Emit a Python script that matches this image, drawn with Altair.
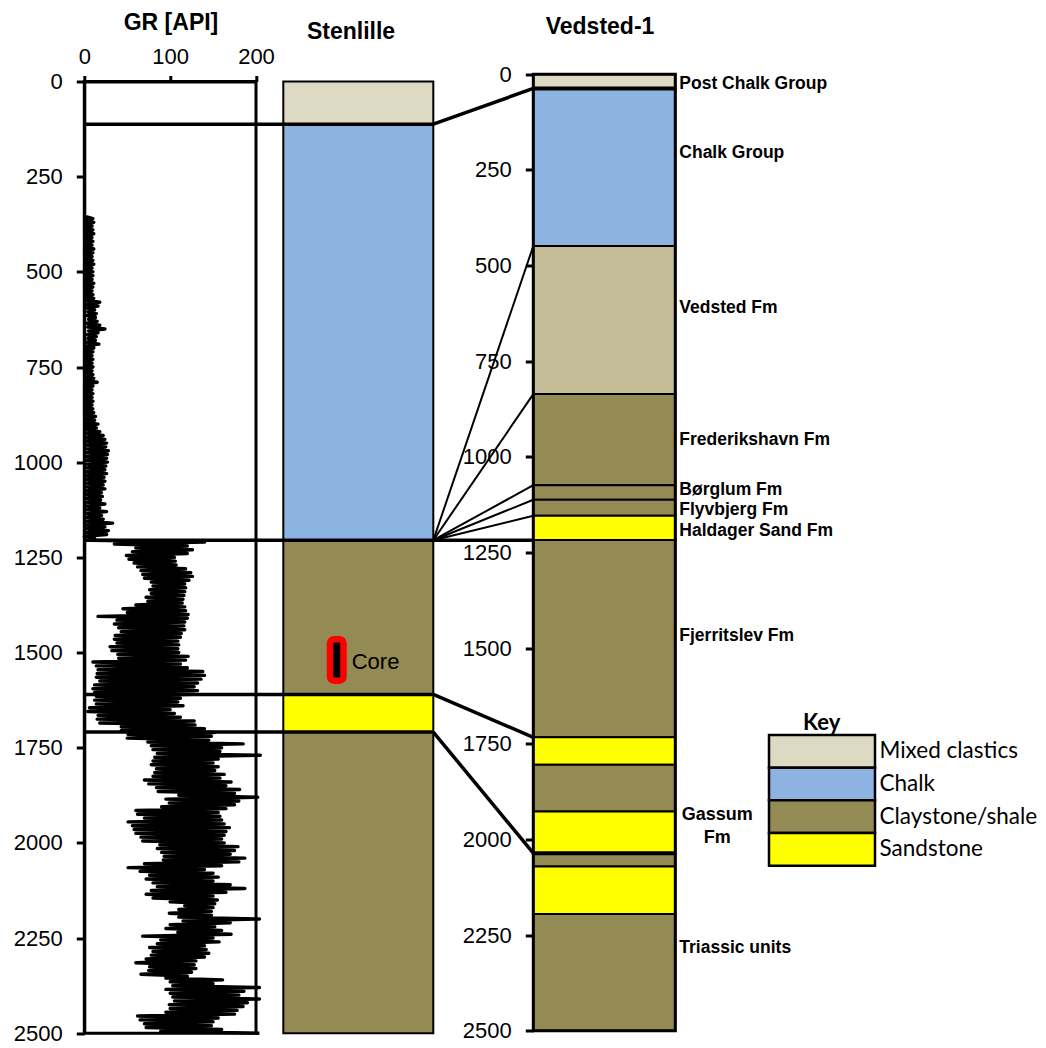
import altair as alt
import pandas as pd

# ------------------------------------------------------------------
# Well data
# ------------------------------------------------------------------
DEPTH_MAX = 2500
depth_ticks = list(range(0, 2501, 250))

lith_names = ["Mixed clastics", "Chalk", "Claystone/shale", "Sandstone", "Clay/marl"]
lith_colors = ["#DDD9C3", "#8DB3E2", "#948A54", "#FFFF00", "#C4BD97"]
key_items = ["Mixed clastics", "Chalk", "Claystone/shale", "Sandstone"]

# Stenlille lithology column (m)
sten_top = [0, 112, 1205, 1610, 1709]
sten_base = [112, 1205, 1610, 1709, 2500]
sten_lith = ["Mixed clastics", "Chalk", "Claystone/shale", "Sandstone", "Claystone/shale"]

# Vedsted-1 lithology column (m)
ved_top = [0, 37, 449, 836, 1074, 1112, 1154, 1217, 1733, 1805, 1927, 2036, 2071, 2195]
ved_base = [37, 449, 836, 1074, 1112, 1154, 1217, 1733, 1805, 1927, 2036, 2071, 2195, 2500]
ved_lith = ["Mixed clastics", "Chalk", "Clay/marl", "Claystone/shale", "Claystone/shale",
            "Claystone/shale", "Sandstone", "Claystone/shale", "Sandstone", "Claystone/shale",
            "Sandstone", "Claystone/shale", "Sandstone", "Claystone/shale"]

# Vedsted-1 formation labels (depth of label centre, m)
fm_names = ["Post Chalk Group", "Chalk Group", "Vedsted Fm", "Frederikshavn Fm", "Børglum Fm",
            "Flyvbjerg Fm", "Haldager Sand Fm", "Fjerritslev Fm", "Triassic units"]
fm_depth = [26, 205, 611, 956, 1087, 1140, 1194, 1468, 2284]
gassum_label = "Gassum\nFm"
gassum_depth = 1936

# Stenlille surfaces carried across the GR track
sten_markers = [112, 1610, 1709]
base_chalk = [1205]
ved_markers = [37, 2036]

# Correlation ties: Stenlille depth -> Vedsted-1 depth
tie_sten = [112, 1610, 1709]
tie_ved = [37, 1733, 2036]
fan_sten = [1205, 1205, 1205, 1205, 1205]
fan_ved = [449, 836, 1074, 1112, 1154]

# Core interval (m)
core_top, core_base = 1465, 1574

# Stenlille gamma-ray log, 5 m samples from 355 m
gr_start, gr_step = 355, 5
gr_values = [
    2, 10, 1, 11, 2, 9, 1, 10, 2, 11,
    1, 9, 2, 10, 1, 9, 2, 11, 1, 10,
    2, 9, 1, 10, 2, 11, 1, 9, 2, 10,
    1, 10, 2, 9, 1, 11, 2, 10, 1, 9,
    2, 10, 1, 11, 3, 18, 2, 16, 3, 12,
    4, 14, 3, 13, 5, 15, 3, 18, 4, 24,
    5, 16, 3, 14, 4, 13, 3, 17, 2, 11,
    2, 10, 1, 9, 2, 10, 1, 9, 2, 10,
    1, 9, 2, 10, 1, 11, 2, 15, 1, 10,
    2, 9, 1, 10, 2, 9, 1, 10, 2, 9,
    1, 10, 2, 11, 1, 13, 2, 12, 1, 16,
    2, 14, 1, 18, 3, 22, 2, 24, 3, 26,
    2, 25, 3, 28, 2, 27, 3, 26, 2, 27,
    3, 25, 2, 24, 3, 26, 2, 23, 3, 24,
    2, 22, 3, 24, 2, 20, 3, 21, 2, 19,
    2, 24, 3, 18, 2, 26, 3, 20, 2, 22,
    3, 33, 2, 24, 3, 28, 2, 26, 0, 12,
    8, 140, 35, 120, 60, 126, 56, 120, 49, 105,
    52, 106, 58, 107, 62, 118, 66, 124, 68, 126,
    70, 122, 78, 117, 80, 118, 76, 117, 78, 116,
    72, 115, 74, 114, 60, 117, 45, 118, 50, 121,
    16, 120, 38, 117, 35, 116, 40, 117, 43, 113,
    36, 112, 35, 109, 38, 110, 30, 109, 32, 110,
    39, 121, 40, 118, 10, 112, 14, 120, 16, 138,
    15, 140, 14, 136, 18, 132, 12, 128, 10, 132,
    12, 128, 14, 112, 12, 109, 14, 115, 6, 100,
    4, 105, 16, 112, 15, 128, 18, 129, 43, 140,
    43, 152, 51, 148, 50, 145, 74, 185, 78, 160,
    80, 158, 85, 205, 82, 156, 80, 150, 78, 156,
    84, 152, 82, 163, 80, 158, 70, 171, 75, 165,
    84, 181, 86, 175, 110, 202, 95, 180, 99, 175,
    90, 165, 60, 156, 62, 158, 70, 160, 51, 163,
    56, 169, 58, 165, 60, 163, 66, 160, 68, 163,
    88, 179, 85, 175, 90, 170, 93, 187, 92, 180,
    70, 160, 51, 140, 65, 150, 76, 156, 72, 150,
    80, 170, 85, 187, 78, 165, 72, 150, 80, 155,
    100, 152, 117, 150, 110, 148, 99, 148, 110, 204,
    115, 170, 100, 152, 95, 160, 109, 171, 68, 150,
    89, 157, 85, 140, 76, 142, 80, 145, 78, 140,
    72, 130, 60, 128, 76, 130, 75, 125, 66, 120,
    95, 161, 100, 150, 103, 204, 95, 186, 100, 180,
    103, 204, 105, 190, 99, 185, 100, 178, 95, 175,
    62, 156, 65, 150, 70, 148, 72, 160, 89, 204,
]

# ------------------------------------------------------------------
# Layout (pixels inside the plot area)
# ------------------------------------------------------------------
PAD_LEFT, PAD_TOP = 84.3, 81.5
PLOT_W, PLOT_H = 1046 - PAD_LEFT, 1048 - PAD_TOP
STEN_RANGE = [0, 951.7]
VED_RANGE = [-7.2, 949.2]
GR_RANGE = [0, 171.7]
STEN_X0, STEN_X1 = 199, 349
VED_X0, VED_X1 = 449, 591
LABEL_X = 595
KEY_X0, KEY_X1 = 684.7, 790.7
KEY_RANGE = [653.5, 784.2]

ARIAL = "Liberation Sans"
CALIBRI = "Lato"


def ved_on_sten_axis(v):
    """Express a Vedsted-1 depth in Stenlille axis units (the two axes are offset)."""
    px = VED_RANGE[0] + v / DEPTH_MAX * (VED_RANGE[1] - VED_RANGE[0])
    return px / (STEN_RANGE[1] - STEN_RANGE[0]) * DEPTH_MAX


def depth_axis(offset=0):
    return alt.Axis(values=depth_ticks, orient="left", offset=offset, title=None, grid=False,
                    format="d", labelFont=ARIAL, labelFontSize=22, labelColor="black",
                    labelPadding=14, labelOverlap=False, tickColor="black", tickSize=8,
                    tickWidth=3, domainColor="black", domainWidth=3)


sten_scale = alt.Scale(domain=[0, DEPTH_MAX], range=STEN_RANGE, nice=False, zero=False)
ved_scale = alt.Scale(domain=[0, DEPTH_MAX], range=VED_RANGE, nice=False, zero=False)
sten_axis = depth_axis()
ved_axis = depth_axis(offset=-VED_X0)


def ys(field):
    return alt.Y(field, scale=sten_scale, axis=sten_axis)


def yv(field):
    return alt.Y(field, scale=ved_scale, axis=ved_axis)


fill_enc = alt.Fill("lith:N", scale=alt.Scale(domain=lith_names, range=lith_colors), legend=None)

gr_axis = alt.Axis(orient="top", values=[0, 100, 200], title=None, grid=False, format="d",
                   labelFont=ARIAL, labelFontSize=22, labelColor="black", labelPadding=7,
                   labelFlush=False, labelOverlap=False, tickColor="black", tickSize=6,
                   tickWidth=3, domainColor="black", domainWidth=3)
gr_scale = alt.Scale(domain=[0, 200], range=GR_RANGE, nice=False, zero=False)

# ------------------------------------------------------------------
# Stenlille: GR track, lithology column, core, surfaces, ties
# ------------------------------------------------------------------
gr_df = pd.DataFrame({"depth": [gr_start + i * gr_step for i in range(len(gr_values))],
                      "gr": gr_values})
frame_df = pd.DataFrame({"g0": [0], "g1": [200], "d0": [0], "d1": [DEPTH_MAX]})
sten_df = pd.DataFrame({"top": sten_top, "base": sten_base, "lith": sten_lith})
core_df = pd.DataFrame({"top": [core_top], "base": [core_base],
                        "mid": [(core_top + core_base) / 2 + 5], "label": ["Core"]})

gr_frame = alt.Chart(frame_df).mark_rect(fillOpacity=0, stroke="black", strokeWidth=3).encode(
    x=alt.X("g0:Q", scale=gr_scale, axis=gr_axis), x2="g1:Q", y=ys("d0:Q"), y2="d1:Q")

gr_line = alt.Chart(gr_df).mark_line(color="black", strokeWidth=3.4, strokeJoin="round").encode(
    x=alt.X("gr:Q", scale=gr_scale, axis=gr_axis), y=ys("depth:Q"), order="depth:Q")

sten_col = alt.Chart(sten_df).mark_rect(stroke="black", strokeWidth=2).encode(
    x=alt.value(STEN_X0), x2=alt.value(STEN_X1), y=ys("top:Q"), y2="base:Q", fill=fill_enc)

core = alt.Chart(core_df).mark_rect(fill="black", stroke="#FF0000", strokeWidth=6.5,
                                    cornerRadius=4).encode(
    x=alt.value(245.7), x2=alt.value(259.2), y=ys("top:Q"), y2="base:Q")

core_text = alt.Chart(core_df).mark_text(align="left", baseline="middle", font=ARIAL,
                                         fontSize=22, color="black").encode(
    x=alt.value(267.4), y=ys("mid:Q"), text="label:N")

surf = alt.Chart(pd.DataFrame({"depth": sten_markers})).mark_rule(
    color="black", strokeWidth=3.5).encode(x=alt.value(0), x2=alt.value(STEN_X1), y=ys("depth:Q"))

chalk_base = alt.Chart(pd.DataFrame({"depth": base_chalk})).mark_rule(
    color="black", strokeWidth=3.5).encode(x=alt.value(0), x2=alt.value(VED_X1), y=ys("depth:Q"))

ties_df = pd.DataFrame({"sten": tie_sten, "ved": [ved_on_sten_axis(v) for v in tie_ved]})
ties = alt.Chart(ties_df).mark_rule(color="black", strokeWidth=3.5).encode(
    x=alt.value(STEN_X1), x2=alt.value(VED_X0), y=ys("sten:Q"), y2="ved:Q")

fan_df = pd.DataFrame({"sten": fan_sten, "ved": [ved_on_sten_axis(v) for v in fan_ved]})
fan = alt.Chart(fan_df).mark_rule(color="black", strokeWidth=2).encode(
    x=alt.value(STEN_X1), x2=alt.value(VED_X0), y=ys("sten:Q"), y2="ved:Q")

stenlille = alt.layer(sten_col, core, core_text, gr_line, gr_frame, surf, fan, ties, chalk_base)

# ------------------------------------------------------------------
# Vedsted-1 column
# ------------------------------------------------------------------
ved_df = pd.DataFrame({"top": ved_top, "base": ved_base, "lith": ved_lith})
ved_col = alt.Chart(ved_df).mark_rect(stroke="black", strokeWidth=2).encode(
    x=alt.value(VED_X0), x2=alt.value(VED_X1), y=yv("top:Q"), y2="base:Q", fill=fill_enc)

ved_frame = alt.Chart(pd.DataFrame({"d0": [0], "d1": [DEPTH_MAX]})).mark_rect(
    fillOpacity=0, stroke="black", strokeWidth=3).encode(
    x=alt.value(VED_X0), x2=alt.value(VED_X1), y=yv("d0:Q"), y2="d1:Q")

ved_surf = alt.Chart(pd.DataFrame({"depth": ved_markers})).mark_rule(
    color="black", strokeWidth=4).encode(x=alt.value(VED_X0), x2=alt.value(VED_X1), y=yv("depth:Q"))

fm_text = alt.Chart(pd.DataFrame({"name": fm_names, "depth": fm_depth})).mark_text(
    align="left", baseline="middle", font=ARIAL, fontWeight="bold", fontSize=17.5,
    color="black").encode(x=alt.value(LABEL_X), y=yv("depth:Q"), text="name:N")

gassum_text = alt.Chart(pd.DataFrame({"name": [gassum_label], "depth": [gassum_depth]})).mark_text(
    align="center", baseline="middle", font=ARIAL, fontWeight="bold", fontSize=18,
    lineBreak="\n", lineHeight=23, color="black").encode(
    x=alt.value(633), y=yv("depth:Q"), text="name:N")

vedsted = alt.layer(ved_col, ved_frame, ved_surf, fm_text, gassum_text)

# ------------------------------------------------------------------
# Lithology key
# ------------------------------------------------------------------
key_scale = alt.Scale(domain=key_items, range=KEY_RANGE, paddingInner=0, paddingOuter=0)
key_df = pd.DataFrame({"lith": key_items})
key_boxes = alt.Chart(key_df).mark_rect(stroke="black", strokeWidth=2.5).encode(
    x=alt.value(KEY_X0), x2=alt.value(KEY_X1),
    y=alt.Y("lith:N", scale=key_scale, axis=None), fill=fill_enc)
key_labels = alt.Chart(key_df).mark_text(align="left", baseline="middle", font=CALIBRI,
                                         fontSize=22.5, color="black").encode(
    x=alt.value(KEY_X1 + 4.5), y=alt.Y("lith:N", scale=key_scale, axis=None), text="lith:N")
key = alt.layer(key_boxes, key_labels)

# ------------------------------------------------------------------
# Track titles
# ------------------------------------------------------------------
def title_mark(text, x, y, font=ARIAL, size=23):
    return alt.Chart(pd.DataFrame({"t": [text]})).mark_text(
        align="center", baseline="middle", font=font, fontWeight="bold", fontSize=size,
        color="black").encode(x=alt.value(x), y=alt.value(y), text="t:N")


titles = alt.layer(
    title_mark("GR [API]", 86.7, -58.5),
    title_mark("Stenlille", 266.7, -49.5),
    title_mark("Vedsted-1", 515.7, -54.5),
    title_mark("Key", 737.4, 641.2, font=CALIBRI, size=22),
)

chart = alt.layer(stenlille, vedsted, key, titles).resolve_scale(y="independent").properties(
    width=PLOT_W, height=PLOT_H,
    autosize=alt.AutoSizeParams(type="none"),
    padding={"left": PAD_LEFT, "top": PAD_TOP, "right": 0, "bottom": 0},
    background="white",
).configure_view(strokeWidth=0)

chart.save("out.html", embed_options={"renderer": "svg", "actions": False})
